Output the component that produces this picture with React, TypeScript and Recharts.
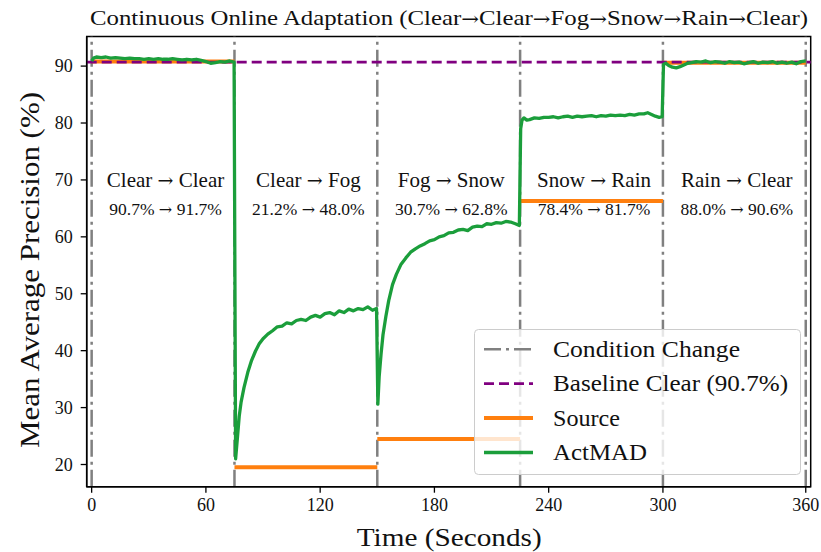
import { LineChart, Line, XAxis, YAxis, ReferenceLine, ReferenceArea, Legend } from "recharts";

const changeTimes = [0, 75, 150, 225, 300, 375];
const xTicks = [0, 60, 120, 180, 240, 300, 375];
const xTickLabels = ["0", "60", "120", "180", "240", "300", "360"];
const yTicks = [20, 30, 40, 50, 60, 70, 80, 90];
const baselineClear = 90.7;
const sourceLevels = [90.8, 19.5, 24.5, 66.3, 90.6];
const segmentTitles = ["Clear → Clear", "Clear → Fog", "Fog → Snow", "Snow → Rain", "Rain → Clear"];
const segmentScores = ["90.7% → 91.7%", "21.2% → 48.0%", "30.7% → 62.8%", "78.4% → 81.7%", "88.0% → 90.6%"];

// ActMAD mAP over time
const actmadTime = [
    0, 1, 2.5, 5, 7.5, 10, 12.5, 15, 17.5, 20, 22.5, 25, 27.5, 30, 32.5, 35, 37.5, 40, 42.5, 45, 47.5, 50, 52.5, 55,
    57.5, 60, 62.5, 65, 67.5, 70, 72.5, 74.8,
    75.6, 76.5, 77.5, 78.5, 80, 82, 84, 86, 88, 90, 92.5, 95, 97.5, 100, 102.5, 105, 107.5, 110, 112.5, 115, 117.5,
    120, 122.5, 125, 127.5, 130, 132.5, 135, 137.5, 140, 142.5, 145, 147.5, 149.6,
    150.3, 151, 152, 153, 154.5, 156, 158, 160, 162.5, 165, 167.5, 170, 172.5, 175, 177.5, 180, 182.5, 185, 187.5, 190,
    192.5, 195, 197.5, 200, 202.5, 205, 207.5, 210, 212.5, 215, 217.5, 220, 222.5, 224.6,
    225.3, 226, 227, 228.5, 230, 232.5, 235, 237.5, 240, 242.5, 245, 247.5, 250, 252.5, 255, 257.5, 260, 262.5, 265,
    267.5, 270, 272.5, 275, 277.5, 280, 282.5, 285, 287.5, 290, 292, 294, 296, 298, 299.6,
    300.3, 301.5, 303, 305, 307, 309, 311, 313, 315, 317.5, 320, 322.5, 325, 327.5, 330, 332.5, 335, 337.5, 340, 342.5,
    345, 347.5, 350, 352.5, 355, 357.5, 360, 362.5, 365, 367.5, 370, 372.5, 375,
];
const actmadMap = [
    90.9, 91.4, 91.6, 91.5, 91.6, 91.4, 91.5, 91.4, 91.3, 91.4, 91.3, 91.3, 91.2, 91.3, 91.2, 91.3, 91.2, 91.2, 91.3,
    91.2, 91.1, 91.2, 91.1, 91.2, 91.0, 90.8, 90.5, 90.6, 90.8, 90.7, 90.9, 90.7,
    21.0, 24.5, 28.5, 31.0, 33.5, 36.2, 38.3, 39.9, 41.2, 42.1, 42.9, 43.5, 44.2, 44.3, 44.9, 44.7, 45.3, 45.5, 45.3,
    45.9, 46.2, 45.9, 46.5, 46.7, 46.3, 47.0, 46.7, 47.3, 47.0, 47.4, 47.2, 47.7, 47.1, 47.4,
    30.6, 35.5, 39.5, 42.8, 46.0, 48.8, 51.6, 53.4, 55.2, 56.3, 57.3, 57.9, 58.4, 58.8, 59.3, 59.5, 60.0, 60.2, 60.7,
    60.8, 61.2, 61.3, 61.1, 61.7, 61.9, 61.8, 62.3, 62.2, 62.5, 62.4, 62.7, 62.6, 62.3, 62.0,
    79.0, 80.5, 80.9, 80.5, 80.6, 80.9, 80.8, 81.0, 81.0, 81.1, 80.9, 81.1, 81.2, 81.0, 81.2, 81.1, 81.2, 81.3, 81.1,
    81.3, 81.2, 81.4, 81.3, 81.4, 81.3, 81.5, 81.4, 81.6, 81.6, 81.8, 81.5, 81.2, 81.0, 81.1,
    90.3, 90.5, 90.1, 89.8, 89.7, 89.9, 90.2, 90.5, 90.6, 90.8, 90.7, 90.9, 90.6, 90.8, 90.7, 90.5, 90.8, 90.6, 90.7,
    90.4, 90.6, 90.8, 90.5, 90.7, 90.6, 90.8, 90.5, 90.7, 90.5, 90.7, 90.4, 90.8, 90.9,
];

const FONT = '"Liberation Serif", "DejaVu Serif", serif';
const ARROW_FONT = '"DejaVu Serif", "DejaVu Sans", serif';
const GREEN = "#1b9e3b";
const ORANGE = "#ff7f0e";
const PURPLE = "#800080";
const GRAY = "#808080";

const actmadData = actmadTime.map((t, i) => ({ t, v: actmadMap[i] }));

const legendItems = [
    { name: "Condition Change", color: GRAY, dash: "17 5 3 5", width: 2.5, textLength: 187 },
    { name: "Baseline Clear (90.7%)", color: PURPLE, dash: "10 5", width: 2.8, textLength: 235 },
    { name: "Source", color: ORANGE, dash: undefined, width: 4, textLength: 67 },
    { name: "ActMAD", color: GREEN, dash: undefined, width: 3.5, textLength: 94 },
];

// split text so arrows come from a font with a proper long arrow
function withArrows(text: string, arrowSize?: number) {
    return text.split("→").flatMap((part, i) =>
        i === 0
            ? [<tspan key={"p" + i}>{part}</tspan>]
            : [
                  <tspan key={"a" + i} fontFamily={ARROW_FONT} fontSize={arrowSize}>
                      →
                  </tspan>,
                  <tspan key={"p" + i}>{part}</tspan>,
              ]
    );
}

function ChartLegend() {
    return (
        <svg width={327} height={146} style={{ display: "block" }}>
            <rect x={0.5} y={0.5} width={326} height={145} rx={4} fill="#fff" fillOpacity={0.8} stroke="#cccccc" />
            {legendItems.map((item, i) => (
                <g key={item.name}>
                    <line
                        x1={10}
                        x2={59}
                        y1={20.3 + i * 34.4}
                        y2={20.3 + i * 34.4}
                        stroke={item.color}
                        strokeWidth={item.width}
                        strokeDasharray={item.dash}
                    />
                    <text
                        x={79}
                        y={27.8 + i * 34.4}
                        fontFamily={FONT}
                        fontSize={23.5}
                        fill="#111"
                        textLength={item.textLength}
                        lengthAdjust="spacingAndGlyphs"
                    >
                        {item.name}
                    </text>
                </g>
            ))}
        </svg>
    );
}

function segmentLabel(title: string, score: string) {
    return (props: any) => {
        const vb = props.viewBox;
        const cx = vb.x + vb.width / 2 + 2.5;
        return (
            <g>
                <text x={cx} y={vb.y} textAnchor="middle" fontFamily={FONT} fontSize={21} fill="#111">
                    {withArrows(title, 19)}
                </text>
                <text x={cx} y={vb.y + vb.height} textAnchor="middle" fontFamily={FONT} fontSize={17.5} fill="#111">
                    {withArrows(score, 16)}
                </text>
            </g>
        );
    };
}

export default function App() {
    return (
        <div style={{ position: "absolute", left: 0, top: 0, width: 821, height: 552, background: "#fff" }}>
            <LineChart
                width={821}
                height={552}
                margin={{ top: 36.5, right: 10.3, left: 26.7, bottom: 25.3 }}
                style={{ fontFamily: FONT }}
            >
                <XAxis
                    type="number"
                    dataKey="t"
                    domain={[-2.6, 377.6]}
                    allowDataOverflow
                    ticks={xTicks}
                    tickFormatter={(v: number) => xTickLabels[xTicks.indexOf(v)]}
                    height={40}
                    tickSize={6}
                    tickMargin={6}
                    tick={{ fontSize: 18, fill: "#111", fontFamily: FONT }}
                    axisLine={{ stroke: "#000", strokeWidth: 1.5 }}
                    tickLine={{ stroke: "#000", strokeWidth: 1.3 }}
                />
                <YAxis
                    type="number"
                    domain={[16.1, 95.2]}
                    allowDataOverflow
                    ticks={yTicks}
                    width={60}
                    tickSize={6}
                    tickMargin={8}
                    tick={{ fontSize: 18, fill: "#111", fontFamily: FONT }}
                    axisLine={{ stroke: "#000", strokeWidth: 1.5 }}
                    tickLine={{ stroke: "#000", strokeWidth: 1.3 }}
                />
                <ReferenceArea
                    x1={-2.6}
                    x2={377.6}
                    y1={16.1}
                    y2={95.2}
                    fill="none"
                    stroke="#000"
                    strokeWidth={1.5}
                    ifOverflow="visible"
                />
                {segmentTitles.map((title, i) => (
                    <ReferenceArea
                        key={title}
                        x1={changeTimes[i]}
                        x2={changeTimes[i + 1]}
                        y1={63.9}
                        y2={68.8}
                        fill="none"
                        stroke="none"
                        label={segmentLabel(title, segmentScores[i])}
                    />
                ))}
                {changeTimes.map(t => (
                    <ReferenceLine key={t} x={t} stroke={GRAY} strokeWidth={2.5} strokeDasharray="17 5 3 5" />
                ))}
                {sourceLevels.map((v, i) => (
                    <Line
                        key={i}
                        data={[
                            { t: changeTimes[i], v },
                            { t: changeTimes[i + 1], v },
                        ]}
                        dataKey="v"
                        stroke={ORANGE}
                        strokeWidth={4}
                        dot={false}
                        isAnimationActive={false}
                    />
                ))}
                <ReferenceLine y={baselineClear} stroke={PURPLE} strokeWidth={2.8} strokeDasharray="10 5" />
                <Line
                    data={actmadData}
                    dataKey="v"
                    type="linear"
                    stroke={GREEN}
                    strokeWidth={3.3}
                    strokeLinejoin="round"
                    dot={false}
                    isAnimationActive={false}
                />
                <Legend
                    content={() => <ChartLegend />}
                    layout="vertical"
                    align="center"
                    verticalAlign="middle"
                    wrapperStyle={{ left: 474, top: 329, width: 327, height: 146 }}
                />
            </LineChart>
            <svg
                width={821}
                height={552}
                style={{ position: "absolute", left: 0, top: 0, pointerEvents: "none" }}
            >
                <text
                    x={449}
                    y={25}
                    textAnchor="middle"
                    fontFamily={FONT}
                    fontSize={21}
                    fill="#111"
                    textLength={718}
                    lengthAdjust="spacingAndGlyphs"
                >
                    {withArrows("Continuous Online Adaptation (Clear→Clear→Fog→Snow→Rain→Clear)", 18)}
                </text>
                <text
                    x={449.2}
                    y={545.5}
                    textAnchor="middle"
                    fontFamily={FONT}
                    fontSize={26}
                    fill="#111"
                    textLength={185}
                    lengthAdjust="spacingAndGlyphs"
                >
                    Time (Seconds)
                </text>
                <text
                    transform="translate(39.3 270) rotate(-90)"
                    textAnchor="middle"
                    fontFamily={FONT}
                    fontSize={27}
                    fill="#111"
                    textLength={356}
                    lengthAdjust="spacingAndGlyphs"
                >
                    Mean Average Precision (%)
                </text>
            </svg>
        </div>
    );
}
